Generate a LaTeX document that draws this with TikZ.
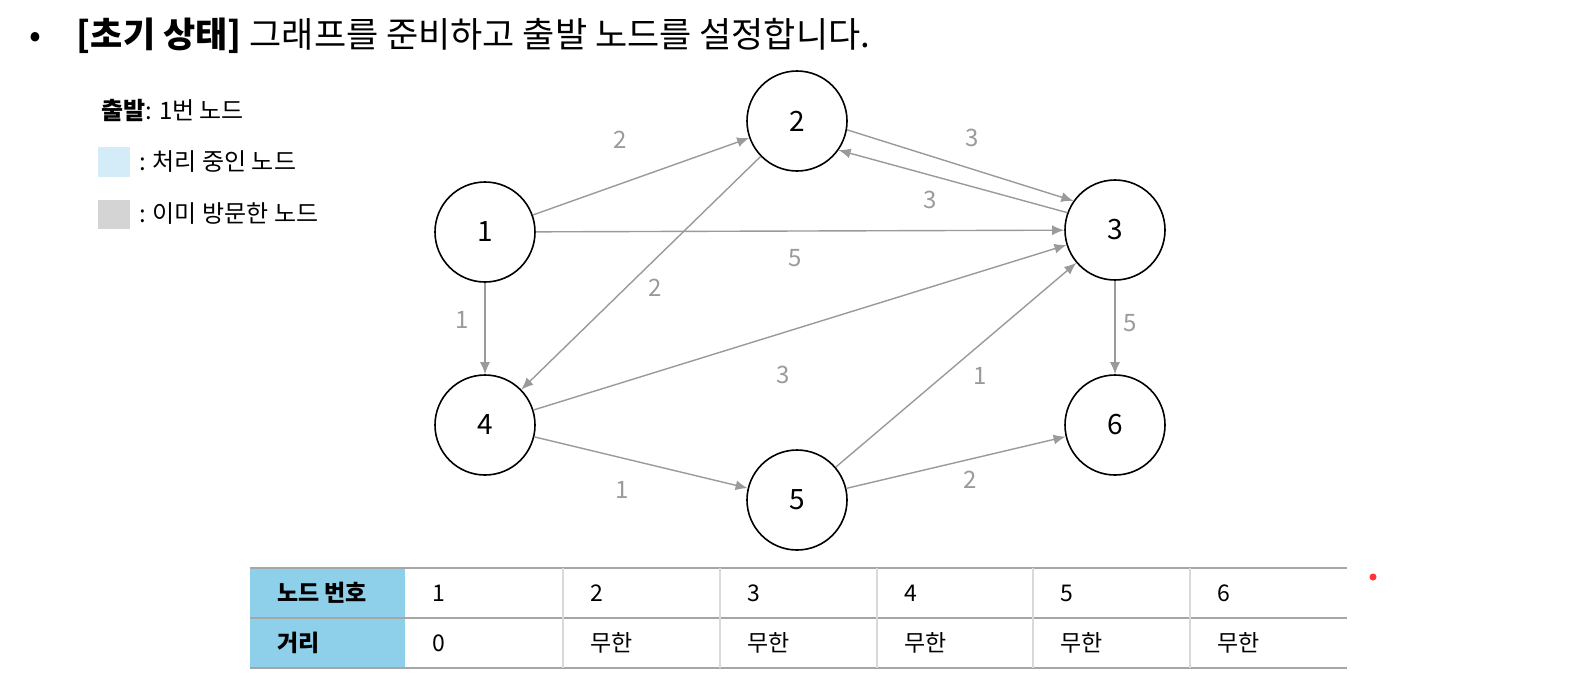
\documentclass[tikz,border=0pt]{standalone}
\usepackage{fontspec}
\setmainfont{Noto Sans CJK KR}
\usetikzlibrary{arrows.meta}
\definecolor{edgegray}{HTML}{9A9A9A}
\definecolor{hdrblue}{HTML}{8ED0EA}
\definecolor{procblue}{HTML}{D3ECF7}
\definecolor{visgray}{HTML}{D4D4D4}
\begin{document}
\begin{tikzpicture}[x=0.5pt,y=-0.5pt,
  gnode/.style={circle,draw=black,line width=0.8pt,minimum size=50pt,inner sep=0pt,font=\fontsize{14}{16}\selectfont},
  edge/.style={draw=edgegray,line width=0.7pt,-{Latex[length=6pt,width=5pt]}},
  elab/.style={text=edgegray,font=\fontsize{12}{14}\selectfont},
  ttext/.style={anchor=west,font=\fontsize{11.5}{13}\selectfont},
  tline/.style={draw=black!35,line width=0.6pt}]
\useasboundingbox[fill=white] (0,0) rectangle (1594,692);
% title
\node[anchor=west,font=\fontsize{17.5}{20}\selectfont] (title) at (22,36) {•\hspace{18pt}\textbf{[초기 상태]} 그래프를 준비하고 출발 노드를 설정합니다.};
% legend
\node[anchor=west,font=\fontsize{12}{14}\selectfont] (lg0) at (94,110) {\textbf{출발}: 1번 노드};
\fill[procblue] (98,147) rectangle (130,177);
\node[anchor=west,font=\fontsize{12}{14}\selectfont] (lg1) at (132,162) {: 처리 중인 노드};
\fill[visgray] (98,200) rectangle (130,229);
\node[anchor=west,font=\fontsize{12}{14}\selectfont] (lg2) at (132,214) {: 이미 방문한 노드};
% nodes
\node[gnode] (1) at (485,232) {1};
\node[gnode] (2) at (797,121) {2};
\node[gnode] (3) at (1115,230) {3};
\node[gnode] (4) at (485,425) {4};
\node[gnode] (5) at (797,500) {5};
\node[gnode] (6) at (1115,425) {6};
% edges
\draw[edge] (1) -- (2);
\draw[edge] (1) -- (3);
\draw[edge] (1) -- (4);
\draw[edge] (2.-10) -- (3.145);
\draw[edge] (3.160) -- (2.-35);
\draw[edge] (2) -- (4);
\draw[edge] (4) -- (3);
\draw[edge] (4) -- (5);
\draw[edge] (5) -- (3);
\draw[edge] (5) -- (6);
\draw[edge] (3) -- (6);
% edge labels
\node[elab] (l12) at (620,140) {2};
\node[elab] (l13) at (795,258) {5};
\node[elab] (l14) at (462,320) {1};
\node[elab] (l23) at (972,138) {3};
\node[elab] (l32) at (930,200) {3};
\node[elab] (l24) at (655,288) {2};
\node[elab] (l43) at (783,375) {3};
\node[elab] (l45) at (622,490) {1};
\node[elab] (l53) at (980,376) {1};
\node[elab] (l56) at (970,480) {2};
\node[elab] (l36) at (1130,323) {5};
% table
\fill[hdrblue] (250,568) rectangle (405,668);
\draw[tline] (250,568) -- (1347,568);
\draw[tline] (250,618) -- (1347,618);
\draw[tline] (250,668) -- (1347,668);
\foreach \x in {563,720,877,1033,1190}{\draw[draw=black!15,line width=0.6pt] (\x,568) -- (\x,668);}
\node[ttext,font=\fontsize{11.5}{13}\selectfont\bfseries] (h0) at (270,593) {노드 번호};
\node[ttext,font=\fontsize{11.5}{13}\selectfont\bfseries] (d0) at (270,643) {거리};
\foreach \x/\n in {405/1,563/2,720/3,877/4,1033/5,1190/6}{\node[ttext] (h\n) at (\x+20,593) {\n};}
\node[ttext] (d1) at (425,643) {0};
\foreach \x/\n in {563/2,720/3,877/4,1033/5,1190/6}{\node[ttext] (d\n) at (\x+20,643) {무한};}
\fill[red!80] (1373,577) circle (3.5);
\end{tikzpicture}
\end{document}
